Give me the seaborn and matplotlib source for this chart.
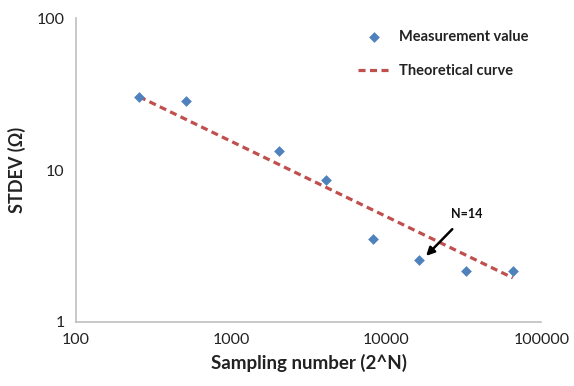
import numpy as np
import pandas as pd
import matplotlib
matplotlib.use("Agg")
import matplotlib.pyplot as plt
import seaborn as sns

# Data
sampling_number = [256, 512, 2048, 4096, 8192, 16384, 32768, 65536]
stdev_measured = [30.4, 28.3, 13.4, 8.6, 3.5, 2.55, 2.15, 2.15]
theory_x = [256, 65536]
theory_y = [30.4, 1.95]

meas = pd.DataFrame({"x": sampling_number, "y": stdev_measured})
theo = pd.DataFrame({"x": theory_x, "y": theory_y})

sns.set_theme(style="white")
plt.rcParams['font.family'] = ['Lato', 'DejaVu Sans']

fig = plt.figure(figsize=(5.74, 3.86), dpi=100)
ax = fig.add_axes([0.132, 0.166, 0.811, 0.787])

blue = "#4F81BD"
red = "#C0504D"

sns.scatterplot(data=meas, x="x", y="y", ax=ax, marker="D", s=30, color=blue,
                edgecolor=blue, linewidth=0, label="Measurement value", zorder=3)
sns.lineplot(data=theo, x="x", y="y", ax=ax, color=red, linewidth=2.3,
             linestyle=(0, (2.2, 1.4)), label="Theoretical curve", zorder=2)

ax.set_xscale("log")
ax.set_yscale("log")
ax.set_xlim(100, 100000)
ax.set_ylim(1, 100)
ax.set_xticks([100, 1000, 10000, 100000])
ax.set_xticklabels(["100", "1000", "10000", "100000"])
ax.set_yticks([1, 10, 100])
ax.set_yticklabels(["1", "10", "100"])
ax.minorticks_off()

for s in ["top", "right"]:
    ax.spines[s].set_visible(False)
for s in ["left", "bottom"]:
    ax.spines[s].set_color("#BFBFBF")
    ax.spines[s].set_linewidth(1.2)
ax.tick_params(axis="both", which="major", direction="out", length=4, width=1,
               color="#BFBFBF", labelsize=11.5, labelcolor="#222222", pad=4)

ax.set_xlabel("Sampling number (2^N)", fontsize=13.5, fontweight="bold", color="#222222", labelpad=5)
ax.set_ylabel("STDEV (Ω)", fontsize=13, fontweight="bold", color="#222222", labelpad=8)

ax.annotate("N=14", xy=(18100, 2.72), xytext=(33300, 5.14), fontsize=9, fontweight="bold",
            ha="center", va="center", color="#111111",
            arrowprops=dict(arrowstyle="-|>", color="black", lw=1.8, mutation_scale=12,
                            shrinkA=6, shrinkB=0))

leg = ax.legend(loc="upper right", bbox_to_anchor=(1.0, 1.005), frameon=False,
                labelspacing=1.4, handlelength=2.2, handletextpad=0.6,
                prop={"weight": "bold", "size": 10.5})
for t in leg.get_texts():
    t.set_color("#222222")

fig.savefig("out.png", dpi=100)
